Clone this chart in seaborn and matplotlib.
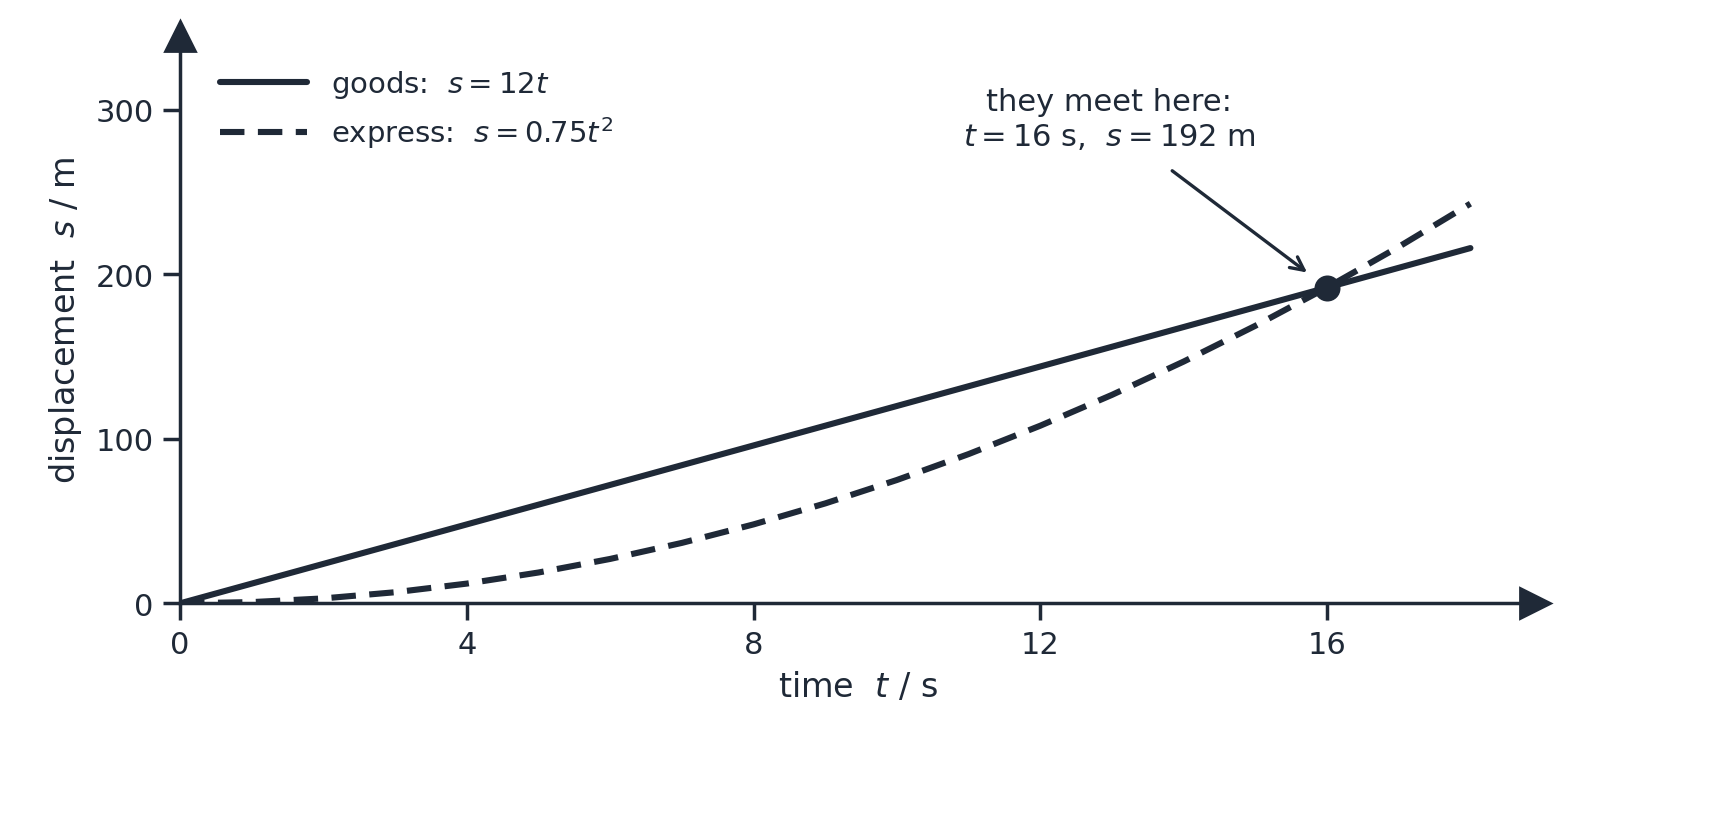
import numpy as np
import pandas as pd
import matplotlib
matplotlib.use("Agg")
import matplotlib.pyplot as plt
import seaborn as sns

# Werte (t in s, s in m)
t_values = [0, 1, 2, 3, 4, 5, 6, 7, 8, 9, 10, 11, 12, 13, 14, 15, 16, 17, 18]
goods_s = [0, 12, 24, 36, 48, 60, 72, 84, 96, 108, 120, 132, 144, 156, 168, 180, 192, 204, 216]
express_s = [0, 0.75, 3, 6.75, 12, 18.75, 27, 36.75, 48, 60.75, 75, 90.75, 108, 126.75, 147, 168.75, 192, 216.75, 243]
meet_t = [16]
meet_s = [192]
x_ticks = [0, 4, 8, 12, 16]
y_ticks = [0, 100, 200, 300]

ink = "#1f2937"

sns.set_theme(style="ticks")
plt.rcParams["font.family"] = ["DejaVu Sans"]
plt.rcParams["mathtext.fontset"] = "dejavusans"

df = pd.DataFrame({"t": t_values, "goods": goods_s, "express": express_s})

fig, ax = plt.subplots(figsize=(8.575, 4.1), dpi=200)
fig.subplots_adjust(left=0.105, right=0.895, bottom=0.263, top=0.955)

sns.lineplot(data=df, x="t", y="goods", ax=ax, color=ink, lw=2.2,
             label=r"goods:  $s = 12t$")
sns.lineplot(data=df, x="t", y="express", ax=ax, color=ink, lw=2.2,
             linestyle=(0, (4, 2.2)), label=r"express:  $s = 0.75t^2$")
ax.scatter(meet_t, meet_s, s=70, color=ink, zorder=5)

ax.text(12.96, 275, "they meet here:\n" + r"$t = 16$ s,  $s = 192$ m",
        ha="center", va="bottom", fontsize=11, color=ink)
ax.annotate("", xy=(16, 192), xytext=(13.84, 263),
            arrowprops=dict(arrowstyle="->", color=ink, lw=1.2,
                            shrinkA=0, shrinkB=9))

ax.set_xlim(0, 18.9)
ax.set_ylim(0, 345)
ax.set_xticks(x_ticks)
ax.set_yticks(y_ticks)
ax.set_xlabel(r"time  $t$ / s", fontsize=12, color=ink)
ax.set_ylabel(r"displacement  $s$ / m", fontsize=12, color=ink)
ax.tick_params(colors=ink, labelsize=11)
for side in ["top", "right"]:
    ax.spines[side].set_visible(False)
for side in ["left", "bottom"]:
    ax.spines[side].set_color(ink)
ax.plot(1, 0, ">", transform=ax.get_yaxis_transform(), clip_on=False,
        color=ink, ms=11)
ax.plot(0, 1, "^", transform=ax.get_xaxis_transform(), clip_on=False,
        color=ink, ms=11)

leg = ax.legend(loc="upper left", frameon=False, fontsize=10.5,
                handlelength=3, bbox_to_anchor=(0.01, 0.99))
for txt in leg.get_texts():
    txt.set_color(ink)

fig.savefig("out.png", dpi=200)
